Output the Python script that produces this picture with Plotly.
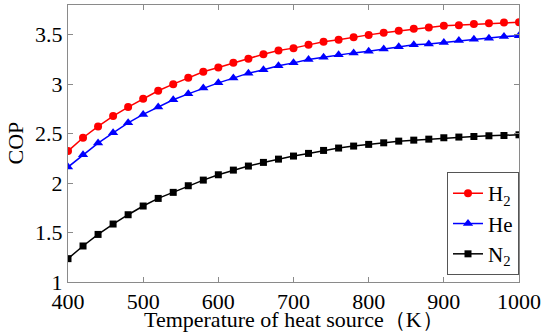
import plotly.graph_objects as go

temperature = list(range(400, 1001, 20))
cop_h2 = [2.323, 2.458, 2.572, 2.677, 2.768, 2.852, 2.933, 3.000, 3.064, 3.125,
          3.168, 3.215, 3.256, 3.303, 3.340, 3.364, 3.397, 3.428, 3.448, 3.475,
          3.498, 3.519, 3.539, 3.559, 3.572, 3.589, 3.596, 3.609, 3.616, 3.623, 3.626]
cop_he = [2.162, 2.286, 2.404, 2.508, 2.609, 2.694, 2.768, 2.842, 2.902, 2.960,
          3.013, 3.061, 3.111, 3.145, 3.185, 3.215, 3.249, 3.273, 3.296, 3.316,
          3.333, 3.354, 3.377, 3.397, 3.407, 3.421, 3.441, 3.455, 3.465, 3.481, 3.488]
cop_n2 = [1.236, 1.364, 1.481, 1.586, 1.680, 1.768, 1.845, 1.906, 1.973, 2.030,
          2.084, 2.131, 2.172, 2.209, 2.242, 2.273, 2.300, 2.330, 2.354, 2.374,
          2.391, 2.407, 2.424, 2.434, 2.444, 2.458, 2.465, 2.471, 2.478, 2.481, 2.488]
series_names = ["H<sub>2</sub>", "He", "N<sub>2</sub>"]
x_ticks = [400, 500, 600, 700, 800, 900, 1000]
y_ticks = [1, 1.5, 2, 2.5, 3, 3.5]
y_tick_labels = ["1", "1.5", "2", "2.5", "3", "3.5"]
x_title = "Temperature of heat source（K）"
y_title = "COP"

font = "Liberation Serif"

fig = go.Figure()
styles = [("#ff0000", "circle", 8), ("#0000ff", "triangle-up", 9), ("#000000", "square", 7)]
for name, ys, (color, sym, size) in zip(series_names, [cop_h2, cop_he, cop_n2], styles):
    fig.add_trace(go.Scatter(
        x=temperature, y=ys, name=name, mode="lines+markers",
        line=dict(color=color, width=1.5),
        marker=dict(color=color, symbol=sym, size=size),
    ))

axis_common = dict(
    showline=True, linecolor="#8a8a8a", linewidth=1, mirror="ticks",
    ticks="inside", ticklen=5, tickcolor="#8a8a8a",
    showgrid=False, zeroline=False,
    tickfont=dict(family=font, size=22, color="black"),
)
fig.update_xaxes(range=[400, 1000], tickvals=x_ticks, **axis_common)
fig.update_yaxes(range=[1, 3.8], tickvals=y_ticks, ticktext=y_tick_labels, **axis_common)

fig.add_annotation(text=x_title, xref="paper", yref="paper", x=0.5, y=-37 / 277,
                   xanchor="center", yanchor="middle", showarrow=False,
                   font=dict(family=font, size=22, color="black"))
fig.add_annotation(text=y_title, xref="paper", yref="paper", x=-53 / 451, y=0.5,
                   xanchor="center", yanchor="middle", showarrow=False, textangle=-90,
                   font=dict(family=font, size=22, color="black"))

fig.update_layout(
    width=550, height=333,
    margin=dict(l=68, r=31, t=5, b=51),
    font=dict(family=font, color="black"),
    paper_bgcolor="white", plot_bgcolor="white",
    showlegend=True,
    legend=dict(x=1.0, y=0.025, xanchor="right", yanchor="bottom",
                bgcolor="white", bordercolor="#555555", borderwidth=1,
                font=dict(family=font, size=21, color="black"),
                itemwidth=30, tracegroupgap=0),
)

fig.write_html("out.html", config={"displayModeBar": False},
               post_script="document.body.style.margin='0';document.body.style.overflow='hidden';")
